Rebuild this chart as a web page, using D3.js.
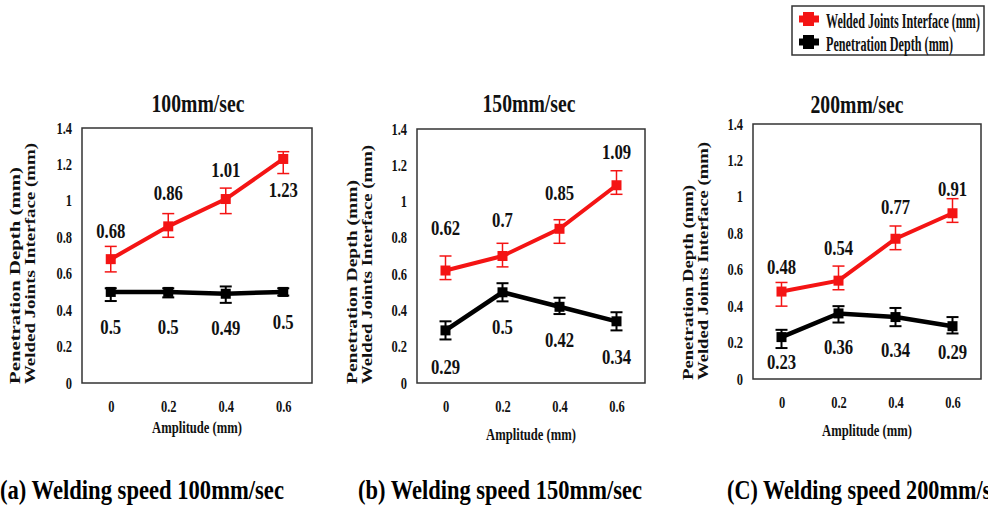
<!DOCTYPE html>
<html>
<head>
<meta charset="utf-8">
<script src="https://cdn.jsdelivr.net/npm/d3@7"></script>
<style>
  body { margin: 0; background: #fff; }
  svg { display: block; }
  text { font-family: "Liberation Serif", "Times New Roman", serif; font-weight: bold; fill: #111; }
</style>
</head>
<body>
<script>
'use strict';

// x categories and y ticks
const amplitudes = ["0", "0.2", "0.4", "0.6"];
const yTicks = [0, 0.2, 0.4, 0.6, 0.8, 1, 1.2, 1.4];
const speedTitles = ["100mm/sec", "150mm/sec", "200mm/sec"];
const captions = ["(a) Welding speed 100mm/sec", "(b) Welding speed 150mm/sec", "(C) Welding speed 200mm/sec"];
const seriesNames = ["Welded Joints Interface (mm)", "Penetration Depth (mm)"];
const yTitleLines = ["Penetration Depth (mm)", "Welded Joints Interface (mm)"];

// welded joints interface (mm) : mean, error bar low, error bar high
const interface100 = [0.68, 0.86, 1.01, 1.23];
const interfaceLow100 = [0.61, 0.80, 0.93, 1.15];
const interfaceHigh100 = [0.75, 0.93, 1.07, 1.27];
const interface150 = [0.62, 0.7, 0.85, 1.09];
const interfaceLow150 = [0.57, 0.64, 0.77, 1.04];
const interfaceHigh150 = [0.70, 0.77, 0.90, 1.17];
const interface200 = [0.48, 0.54, 0.77, 0.91];
const interfaceLow200 = [0.40, 0.49, 0.71, 0.86];
const interfaceHigh200 = [0.53, 0.62, 0.84, 0.99];

// penetration depth (mm) : mean, error bar low, error bar high
const depth100 = [0.5, 0.5, 0.49, 0.5];
const depthLow100 = [0.45, 0.47, 0.44, 0.48];
const depthHigh100 = [0.52, 0.52, 0.53, 0.52];
const depth150 = [0.29, 0.5, 0.42, 0.34];
const depthLow150 = [0.24, 0.45, 0.38, 0.29];
const depthHigh150 = [0.34, 0.55, 0.47, 0.39];
const depth200 = [0.23, 0.36, 0.34, 0.29];
const depthLow200 = [0.17, 0.31, 0.29, 0.25];
const depthHigh200 = [0.27, 0.40, 0.39, 0.34];

const RED = "#f41414";
const BLACK = "#000";
const SQUEEZE = 0.78; // the figure is squashed horizontally

// panel layout (pixels) - where each small chart sits
const panels = [
  { left: 82, top: 128, width: 230, height: 255, titleX: 198, titleY: 112, ampY: 433,
    ytX: [20, 35], ytLen: [217, 241], capX: 0,
    redDy: [-28, -33, -29, 31], blackDy: [35, 35, 34, 30] },
  { left: 417, top: 129, width: 228, height: 254, titleX: 529, titleY: 112, ampY: 440,
    ytX: [357, 372], ytLen: [204, 239], capX: 358,
    redDy: [-43, -36, -36, -33], blackDy: [37, 35, 33, 36] },
  { left: 753, top: 124, width: 228, height: 255, titleX: 857, titleY: 113, ampY: 436,
    ytX: [693, 708], ytLen: [195, 238], capX: 727,
    redDy: [-25, -33, -32, -24], blackDy: [25, 34, 33, 26] }
];

const series = [
  [
    { color: RED, mean: interface100, low: interfaceLow100, high: interfaceHigh100 },
    { color: BLACK, mean: depth100, low: depthLow100, high: depthHigh100 }
  ],
  [
    { color: RED, mean: interface150, low: interfaceLow150, high: interfaceHigh150 },
    { color: BLACK, mean: depth150, low: depthLow150, high: depthHigh150 }
  ],
  [
    { color: RED, mean: interface200, low: interfaceLow200, high: interfaceHigh200 },
    { color: BLACK, mean: depth200, low: depthLow200, high: depthHigh200 }
  ]
];

const svg = d3.select("body").append("svg")
  .attr("width", 988)
  .attr("height", 510);

// text squeezed horizontally by a fixed factor
function squeezed(g, str, x, y, size, sx, anchor) {
  return g.append("text")
    .attr("transform", `translate(${x},${y}) scale(${sx},1)`)
    .attr("text-anchor", anchor || "middle")
    .style("font-size", size + "px")
    .text(str);
}

// text squeezed so that it is exactly `width` pixels wide
function fitted(g, str, x, y, size, width, anchor) {
  const t = g.append("text")
    .attr("text-anchor", anchor || "middle")
    .style("font-size", size + "px")
    .text(str);
  const natural = t.node().getComputedTextLength();
  t.attr("transform", `translate(${x},${y}) scale(${width / natural},1)`);
  return t;
}

panels.forEach((p, i) => {
  const g = svg.append("g");
  const bottom = p.top + p.height;

  const x = d3.scalePoint()
    .domain(amplitudes)
    .range([p.left, p.left + p.width])
    .padding(0.5);
  const y = d3.scaleLinear()
    .domain([0, 1.4])
    .range([bottom, p.top]);

  // axes (labels only, the frame is a rect)
  const yAxis = g.append("g")
    .attr("transform", `translate(${p.left},0)`)
    .call(d3.axisLeft(y).tickValues(yTicks).tickSize(0).tickFormat(d3.format("~g")));
  yAxis.select(".domain").remove();
  yAxis.attr("font-family", null).attr("font-size", null);
  yAxis.selectAll("text")
    .attr("x", 0)
    .attr("transform", `translate(-10,0) scale(${SQUEEZE},1)`)
    .style("font-size", "16px");

  const xAxis = g.append("g")
    .attr("transform", `translate(0,${bottom})`)
    .call(d3.axisBottom(x).tickSize(0).tickPadding(18));
  xAxis.select(".domain").remove();
  xAxis.attr("font-family", null).attr("font-size", null);
  xAxis.selectAll("text")
    .attr("transform", `scale(${SQUEEZE},1)`)
    .style("font-size", "16px");

  g.append("rect")
    .attr("x", p.left)
    .attr("y", p.top)
    .attr("width", p.width)
    .attr("height", p.height)
    .attr("fill", "none")
    .attr("stroke", "#333")
    .attr("stroke-width", 1.5);

  // titles
  fitted(g, speedTitles[i], p.titleX, p.titleY, 25, 93);
  fitted(g, "Amplitude (mm)", p.left + p.width / 2, p.ampY, 17, 90);

  yTitleLines.forEach((t, k) => {
    g.append("text")
      .attr("transform", `translate(${p.ytX[k]},${bottom + 1}) rotate(-90)`)
      .attr("text-anchor", "start")
      .attr("textLength", p.ytLen[k])
      .attr("lengthAdjust", "spacingAndGlyphs")
      .style("font-size", "14px")
      .text(t);
  });

  const line = d3.line()
    .x((d, j) => x(amplitudes[j]))
    .y(d => y(d));

  series[i].forEach((s, k) => {
    const cap = 6;

    // error bars
    const eb = g.append("g")
      .attr("stroke", s.color)
      .attr("stroke-width", k === 0 ? 1.5 : 2);
    s.mean.forEach((v, j) => {
      const cx = x(amplitudes[j]);
      eb.append("line")
        .attr("x1", cx).attr("x2", cx)
        .attr("y1", y(s.low[j])).attr("y2", y(s.high[j]));
      eb.append("line")
        .attr("x1", cx - cap).attr("x2", cx + cap)
        .attr("y1", y(s.low[j])).attr("y2", y(s.low[j]));
      eb.append("line")
        .attr("x1", cx - cap).attr("x2", cx + cap)
        .attr("y1", y(s.high[j])).attr("y2", y(s.high[j]));
    });

    g.append("path")
      .datum(s.mean)
      .attr("d", line)
      .attr("fill", "none")
      .attr("stroke", s.color)
      .attr("stroke-width", k === 0 ? 4 : 4.5);

    g.selectAll(null)
      .data(s.mean)
      .enter()
      .append("rect")
        .attr("x", (d, j) => x(amplitudes[j]) - 5)
        .attr("y", d => y(d) - 5)
        .attr("width", 10)
        .attr("height", 10)
        .attr("fill", s.color);

    // value labels
    const dys = k === 0 ? p.redDy : p.blackDy;
    s.mean.forEach((v, j) => {
      squeezed(g, String(v), x(amplitudes[j]), y(v) + dys[j] + 7, 22, 0.76);
    });
  });

  // caption under each panel
  fitted(svg, captions[i], p.capX, 499, 28, 284, "start").style("fill", "#000");
});

// legend
const legend = svg.append("g");
legend.append("rect")
  .attr("x", 792)
  .attr("y", 6)
  .attr("width", 192)
  .attr("height", 49)
  .attr("fill", "#fff")
  .attr("stroke", "#333")
  .attr("stroke-width", 1.5);

const legendLens = [154, 127];
[RED, BLACK].forEach((c, k) => {
  const ly = 19 + k * 23;
  legend.append("line")
    .attr("x1", 799).attr("x2", 819)
    .attr("y1", ly).attr("y2", ly)
    .attr("stroke", c)
    .attr("stroke-width", 7);
  legend.append("rect")
    .attr("x", 803).attr("y", ly - 7)
    .attr("width", 11).attr("height", 14)
    .attr("fill", c);
  fitted(legend, seriesNames[k], 826, ly + 9, 20, legendLens[k], "start");
});
</script>
</body>
</html>
